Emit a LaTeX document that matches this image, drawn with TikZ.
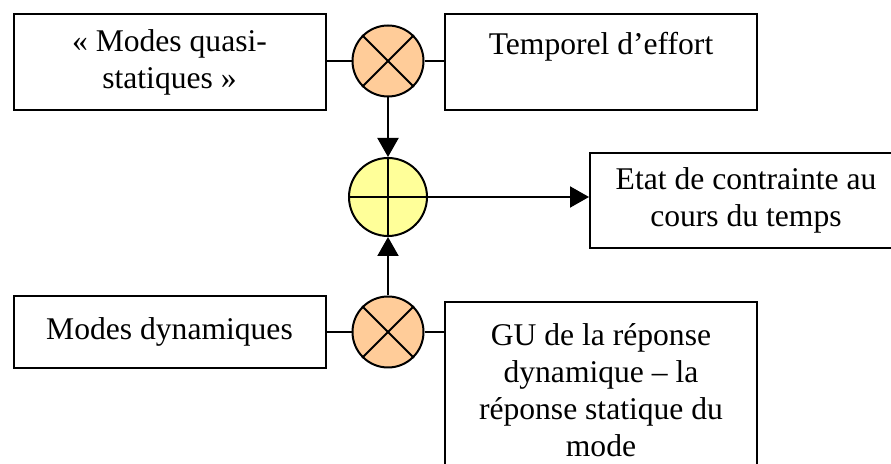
\documentclass[tikz,border=0pt]{standalone}
\usepackage{fontspec}
\setmainfont{Liberation Serif}
\usepackage{xcolor}
\usepackage{tikz}
\usetikzlibrary{arrows.meta}
\definecolor{multfill}{HTML}{FFCC99}
\definecolor{sumfill}{HTML}{FFFF99}

\begin{document}
\begin{tikzpicture}[
  x=0.5pt, y=-0.5pt,
  txtbox/.style={draw=black, line width=1pt, align=center, inner sep=0pt,
    minimum width=156pt, font=\fontsize{15.8pt}{18.5pt}\selectfont},
  multmk/.style={circle, draw=black, fill=multfill, line width=1pt, minimum size=35.5pt, inner sep=0pt},
  summk/.style={circle, draw=black, fill=sumfill, line width=1pt, minimum size=39pt, inner sep=0pt},
  wire/.style={line width=1pt, draw=black},
  flowarr/.style={-{Triangle[length=9.5pt,width=10.5pt]}, line width=1pt, draw=black},
]
% Canvas: coordinates in pixels of the 891 x 464 frame, y pointing down
\useasboundingbox (0,0) rectangle (891,464);
\clip (0,0) rectangle (891,464);

% Boxes
\node[txtbox, minimum height=48pt] (quasi) at (169.5,62) {« Modes quasi-\\statiques »};
\node[txtbox, minimum height=48pt] (effort) at (601,62) {Temporel d’effort\\~};
\node[txtbox, minimum height=47.5pt] (etat) at (746,200.5) {Etat de contrainte au\\cours du temps};
\node[txtbox, minimum height=36pt] (dyn) at (169.5,332) {Modes dynamiques};
\node[txtbox, minimum height=88pt] (gu) at (601,390) {GU de la réponse\\dynamique – la\\réponse statique du\\mode};

% Operators
\node[multmk] (mtop) at (388,61) {};
\node[summk] (sum) at (388,197) {};
\node[multmk] (mbot) at (388,332) {};
\foreach \m in {mtop,mbot} {
  \draw[wire] (\m.north east) -- (\m.south west);
  \draw[wire] (\m.north west) -- (\m.south east);
}
\draw[wire] (sum.north) -- (sum.south);
\draw[wire] (sum.west) -- (sum.east);

% Connections
\draw[wire] (quasi.east |- mtop) -- (mtop.west);
\draw[wire] (mtop.east) -- (effort.west |- mtop);
\draw[wire] (dyn.east |- mbot) -- (mbot.west);
\draw[wire] (mbot.east) -- (gu.west |- mbot);
\draw[flowarr] (mtop.south) -- (sum.north);
\draw[flowarr] (mbot.north) -- (sum.south);
\draw[flowarr] (sum.east) -- (etat.west |- sum);
\end{tikzpicture}
\end{document}
